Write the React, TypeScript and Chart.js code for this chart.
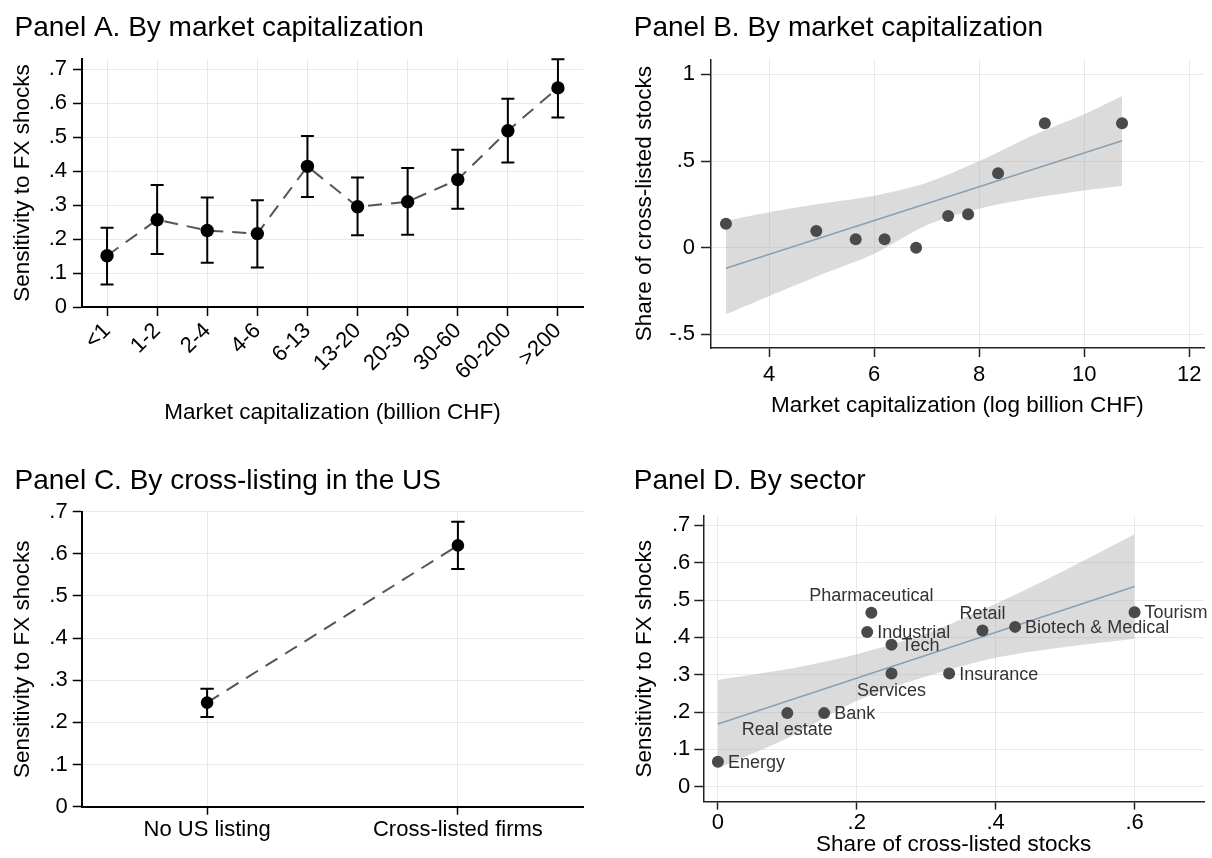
import React, { useEffect, useRef } from "react";
import { Chart, registerables } from "chart.js";

Chart.register(...registerables);

const FONT = "'Liberation Sans', Arial, Helvetica, sans-serif";
const GRID = "#e8e8e8";

// ---------- Panel A: by market capitalization (categories) ----------
const capCategories = ["<1", "1-2", "2-4", "4-6", "6-13", "13-20", "20-30", "30-60", "60-200", ">200"];
const capSensitivity = [0.151, 0.257, 0.225, 0.216, 0.414, 0.295, 0.31, 0.375, 0.519, 0.645];
const capCiLow = [0.066, 0.156, 0.13, 0.116, 0.324, 0.211, 0.213, 0.289, 0.425, 0.558];
const capCiHigh = [0.233, 0.359, 0.322, 0.314, 0.503, 0.381, 0.409, 0.463, 0.613, 0.729];

// ---------- Panel B: share of cross-listed stocks vs log market cap ----------
const logCap = [3.18, 4.9, 5.65, 6.2, 6.8, 7.41, 7.79, 8.36, 9.25, 10.72];
const shareCrossListed = [0.138, 0.096, 0.048, 0.048, 0.0, 0.183, 0.193, 0.429, 0.718, 0.718];
const fitBX = [3.18, 10.72];
const fitBY = [-0.119, 0.617];
const bandBX = [3.18, 4, 5, 6, 7, 8, 9, 10, 10.72];
const bandBHigh = [0.156, 0.205, 0.255, 0.3, 0.375, 0.5, 0.645, 0.77, 0.875];
const bandBLow = [-0.384, -0.28, -0.155, -0.035, 0.13, 0.225, 0.285, 0.33, 0.356];

// ---------- Panel C: by cross-listing in the US ----------
const listingCategories = ["No US listing", "Cross-listed firms"];
const listingSensitivity = [0.247, 0.62];
const listingCiLow = [0.213, 0.564];
const listingCiHigh = [0.28, 0.676];

// ---------- Panel D: by sector ----------
const sectors = ["Energy", "Real estate", "Bank", "Pharmaceutical", "Industrial", "Tech", "Services", "Insurance", "Retail", "Biotech & Medical", "Tourism"];
const sectorShare = [0, 0.1, 0.153, 0.221, 0.215, 0.25, 0.25, 0.333, 0.381, 0.428, 0.6];
const sectorSensitivity = [0.067, 0.197, 0.197, 0.466, 0.414, 0.38, 0.303, 0.303, 0.418, 0.428, 0.467];
const fitDX = [0, 0.6];
const fitDY = [0.168, 0.536];
const bandDX = [0, 0.1, 0.2, 0.3, 0.4, 0.5, 0.6];
const bandDHigh = [0.286, 0.315, 0.355, 0.41, 0.49, 0.58, 0.676];
const bandDLow = [0.05, 0.13, 0.23, 0.295, 0.345, 0.374, 0.396];

// label placement (style, separate from data)
const sectorLabelSide = ["right", "below", "right", "above", "right", "right", "below", "right", "above", "right", "right"];

const W = 606;
const H = 429;

function stataNum(v: number): string {
  const r = Math.round(v * 1000) / 1000;
  if (r === 0) return "0";
  return String(r).replace(/^(-?)0\./, "$1.");
}

function font(size: number, lineHeight = 1.2) {
  return { family: FONT, size, lineHeight };
}

function panelTitlePlugin(text: string, x: number, y: number) {
  return {
    id: "panelTitle",
    afterDraw(chart: any) {
      const ctx = chart.ctx;
      ctx.save();
      ctx.font = `28px ${FONT}`;
      ctx.fillStyle = "#000";
      ctx.textAlign = "left";
      ctx.textBaseline = "alphabetic";
      ctx.fillText(text, x, y);
      ctx.restore();
    },
  };
}

function errorBarPlugin(low: number[], high: number[], halfCap: number) {
  return {
    id: "errorBars",
    afterDatasetsDraw(chart: any) {
      const meta = chart.getDatasetMeta(0);
      const ys = chart.scales.y;
      const ctx = chart.ctx;
      ctx.save();
      ctx.strokeStyle = "#000";
      ctx.lineWidth = 2;
      meta.data.forEach((pt: any, i: number) => {
        const x = pt.x;
        const yl = ys.getPixelForValue(low[i]);
        const yh = ys.getPixelForValue(high[i]);
        ctx.beginPath();
        ctx.moveTo(x, yl);
        ctx.lineTo(x, yh);
        ctx.moveTo(x - halfCap, yl);
        ctx.lineTo(x + halfCap, yl);
        ctx.moveTo(x - halfCap, yh);
        ctx.lineTo(x + halfCap, yh);
        ctx.stroke();
      });
      ctx.restore();
    },
  };
}

function pointLabelPlugin(labels: string[], sides: string[]) {
  return {
    id: "pointLabels",
    afterDatasetsDraw(chart: any) {
      const meta = chart.getDatasetMeta(0);
      const ctx = chart.ctx;
      ctx.save();
      ctx.font = `18px ${FONT}`;
      ctx.fillStyle = "#333";
      meta.data.forEach((pt: any, i: number) => {
        const side = sides[i];
        if (side === "right") {
          ctx.textAlign = "left";
          ctx.textBaseline = "middle";
          ctx.fillText(labels[i], pt.x + 10, pt.y + 1);
        } else if (side === "above") {
          ctx.textAlign = "center";
          ctx.textBaseline = "middle";
          ctx.fillText(labels[i], pt.x, pt.y - 17);
        } else {
          ctx.textAlign = "center";
          ctx.textBaseline = "middle";
          ctx.fillText(labels[i], pt.x, pt.y + 17);
        }
      });
      ctx.restore();
    },
  };
}

const baseOptions = {
  animation: false as const,
  responsive: false,
  maintainAspectRatio: false,
  devicePixelRatio: 1,
  events: [] as any[],
  plugins: { legend: { display: false }, tooltip: { enabled: false } },
};

function makeA(): any {
  return {
    type: "line",
    data: {
      labels: capCategories,
      datasets: [
        {
          data: capSensitivity,
          showLine: false,
          pointRadius: 6.7,
          pointBackgroundColor: "#000",
          pointBorderColor: "#000",
          pointBorderWidth: 0,
        },
        {
          data: capSensitivity,
          borderColor: "#555",
          borderWidth: 2,
          borderDash: [14, 9],
          pointRadius: 0,
          fill: false,
          tension: 0,
        },
      ],
    },
    options: {
      ...baseOptions,
      layout: { padding: { left: 0, top: 59, right: 23, bottom: 0 } },
      scales: {
        x: {
          type: "category",
          offset: true,
          grid: { offset: false, color: GRID, lineWidth: 1, tickColor: "#000", tickLength: 9, tickWidth: 1.5 },
          border: { color: "#000", width: 2 },
          ticks: { minRotation: 45, maxRotation: 45, autoSkip: false, padding: 2, color: "#000", font: font(22) },
          title: {
            display: true,
            text: "Market capitalization (billion CHF)",
            color: "#000",
            font: font(22.5),
            padding: { top: 0, bottom: 3 },
          },
          afterFit(s: any) {
            s.height = 122;
          },
        },
        y: {
          type: "linear",
          min: 0,
          max: 0.73,
          grid: { color: GRID, lineWidth: 1, tickColor: "#000", tickLength: 9, tickWidth: 1.5 },
          border: { color: "#000", width: 2 },
          ticks: {
            stepSize: 0.1,
            includeBounds: false,
            padding: 6,
            color: "#000",
            font: font(22),
            callback: (v: any) => stataNum(Number(v)),
          },
          title: {
            display: true,
            text: "Sensitivity to FX shocks",
            color: "#000",
            font: font(22.5),
            padding: { top: 9.5, bottom: 0 },
          },
          afterFit(s: any) {
            s.width = 82;
          },
        },
      },
    },
    plugins: [panelTitlePlugin("Panel A. By market capitalization", 14.5, 36), errorBarPlugin(capCiLow, capCiHigh, 6.5)],
  };
}

function makeB(): any {
  return {
    type: "line",
    data: {
      datasets: [
        {
          data: logCap.map((x, i) => ({ x, y: shareCrossListed[i] })),
          showLine: false,
          pointRadius: 6,
          pointBackgroundColor: "#4a4a4a",
          pointBorderColor: "#4a4a4a",
          pointBorderWidth: 0,
        },
        {
          data: fitBX.map((x, i) => ({ x, y: fitBY[i] })),
          borderColor: "#8aa0b5",
          borderWidth: 1.6,
          pointRadius: 0,
          fill: false,
        },
        {
          data: bandBX.map((x, i) => ({ x, y: bandBHigh[i] })),
          borderWidth: 0,
          borderColor: "rgba(0,0,0,0)",
          pointRadius: 0,
          tension: 0.3,
          fill: "+1",
          backgroundColor: "rgba(175,175,175,0.45)",
        },
        {
          data: bandBX.map((x, i) => ({ x, y: bandBLow[i] })),
          borderWidth: 0,
          borderColor: "rgba(0,0,0,0)",
          pointRadius: 0,
          tension: 0.3,
          fill: false,
        },
      ],
    },
    options: {
      ...baseOptions,
      layout: { padding: { left: 0, top: 59.3, right: 8, bottom: 0 } },
      scales: {
        x: {
          type: "linear",
          min: 2.89,
          max: 12.28,
          grid: { color: GRID, lineWidth: 1, tickColor: "#222", tickLength: 9, tickWidth: 1.5 },
          border: { color: "#222", width: 1.5 },
          ticks: {
            stepSize: 2,
            includeBounds: false,
            padding: 5,
            color: "#000",
            font: font(22),
            maxRotation: 0,
            callback: (v: any) => stataNum(Number(v)),
          },
          title: {
            display: true,
            text: "Market capitalization (log billion CHF)",
            color: "#000",
            font: font(22.5),
            padding: { top: 0, bottom: 9.5 },
          },
          afterFit(s: any) {
            s.height = 81;
          },
        },
        y: {
          type: "linear",
          min: -0.579,
          max: 1.087,
          grid: { color: GRID, lineWidth: 1, tickColor: "#222", tickLength: 9.7, tickWidth: 1.5 },
          border: { color: "#222", width: 1.5 },
          ticks: {
            stepSize: 0.5,
            includeBounds: false,
            padding: 6,
            color: "#000",
            font: font(22),
            callback: (v: any) => stataNum(Number(v)),
          },
          title: {
            display: true,
            text: "Share of cross-listed stocks",
            color: "#000",
            font: font(22.5),
            padding: { top: 25.5, bottom: 0 },
          },
          afterFit(s: any) {
            s.width = 104.7;
          },
        },
      },
    },
    plugins: [panelTitlePlugin("Panel B. By market capitalization", 27.8, 36)],
  };
}

function makeC(): any {
  return {
    type: "line",
    data: {
      datasets: [
        {
          data: listingSensitivity.map((y, i) => ({ x: i + 1, y })),
          showLine: false,
          pointRadius: 6.3,
          pointBackgroundColor: "#000",
          pointBorderColor: "#000",
          pointBorderWidth: 0,
        },
        {
          data: listingSensitivity.map((y, i) => ({ x: i + 1, y })),
          borderColor: "#555",
          borderWidth: 2,
          borderDash: [14, 9],
          pointRadius: 0,
          fill: false,
        },
      ],
    },
    options: {
      ...baseOptions,
      layout: { padding: { left: 0, top: 82.7, right: 22.7, bottom: 0 } },
      scales: {
        x: {
          type: "linear",
          min: 0.5,
          max: 2.5,
          afterBuildTicks(s: any) {
            s.ticks = listingCategories.map((_, i) => ({ value: i + 1 }));
          },
          grid: { color: GRID, lineWidth: 1, tickColor: "#000", tickLength: 8, tickWidth: 1.5 },
          border: { color: "#000", width: 2 },
          ticks: {
            padding: 2,
            color: "#000",
            font: font(22),
            maxRotation: 0,
            autoSkip: false,
            callback: (v: any) => listingCategories[Math.round(Number(v)) - 1],
          },
          afterFit(s: any) {
            s.height = 51.3;
          },
        },
        y: {
          type: "linear",
          min: 0,
          max: 0.7,
          grid: { color: GRID, lineWidth: 1, tickColor: "#000", tickLength: 9, tickWidth: 1.5 },
          border: { color: "#000", width: 2 },
          ticks: {
            stepSize: 0.1,
            includeBounds: false,
            padding: 5,
            color: "#000",
            font: font(22),
            callback: (v: any) => stataNum(Number(v)),
          },
          title: {
            display: true,
            text: "Sensitivity to FX shocks",
            color: "#000",
            font: font(22.5),
            padding: { top: 9.5, bottom: 0 },
          },
          afterFit(s: any) {
            s.width = 81.7;
          },
        },
      },
    },
    plugins: [panelTitlePlugin("Panel C. By cross-listing in the US", 14.5, 60), errorBarPlugin(listingCiLow, listingCiHigh, 6.7)],
  };
}

function makeD(): any {
  return {
    type: "line",
    data: {
      datasets: [
        {
          data: sectorShare.map((x, i) => ({ x, y: sectorSensitivity[i] })),
          showLine: false,
          pointRadius: 6,
          pointBackgroundColor: "#4a4a4a",
          pointBorderColor: "#4a4a4a",
          pointBorderWidth: 0,
        },
        {
          data: fitDX.map((x, i) => ({ x, y: fitDY[i] })),
          borderColor: "#8aa0b5",
          borderWidth: 1.6,
          pointRadius: 0,
          fill: false,
        },
        {
          data: bandDX.map((x, i) => ({ x, y: bandDHigh[i] })),
          borderWidth: 0,
          borderColor: "rgba(0,0,0,0)",
          pointRadius: 0,
          tension: 0.3,
          fill: "+1",
          backgroundColor: "rgba(175,175,175,0.45)",
        },
        {
          data: bandDX.map((x, i) => ({ x, y: bandDLow[i] })),
          borderWidth: 0,
          borderColor: "rgba(0,0,0,0)",
          pointRadius: 0,
          tension: 0.3,
          fill: false,
        },
      ],
    },
    options: {
      ...baseOptions,
      layout: { padding: { left: 0, top: 87, right: 8, bottom: 0 } },
      scales: {
        x: {
          type: "linear",
          min: -0.021,
          max: 0.7,
          grid: { color: GRID, lineWidth: 1, tickColor: "#222", tickLength: 8, tickWidth: 1.5 },
          border: { color: "#222", width: 1.5 },
          ticks: {
            stepSize: 0.2,
            includeBounds: false,
            padding: 0,
            color: "#000",
            font: font(22),
            maxRotation: 0,
            callback: (v: any) => stataNum(Number(v)),
          },
          title: {
            display: true,
            text: "Share of cross-listed stocks",
            color: "#000",
            font: font(22.5),
            padding: { top: 0, bottom: 0 },
          },
          afterFit(s: any) {
            s.height = 56.4;
          },
        },
        y: {
          type: "linear",
          min: -0.04,
          max: 0.725,
          grid: { color: GRID, lineWidth: 1, tickColor: "#222", tickLength: 9, tickWidth: 1.5 },
          border: { color: "#222", width: 1.5 },
          ticks: {
            stepSize: 0.1,
            includeBounds: false,
            padding: 4,
            color: "#000",
            font: font(22),
            callback: (v: any) => stataNum(Number(v)),
          },
          title: {
            display: true,
            text: "Sensitivity to FX shocks",
            color: "#000",
            font: font(22.5),
            padding: { top: 25.5, bottom: 0 },
          },
          afterFit(s: any) {
            s.width = 97.3;
          },
        },
      },
    },
    plugins: [panelTitlePlugin("Panel D. By sector", 27.8, 60), pointLabelPlugin(sectors, sectorLabelSide)],
  };
}

function Panel({ left, top, make }: { left: number; top: number; make: () => any }) {
  const ref = useRef<HTMLCanvasElement | null>(null);
  useEffect(() => {
    if (!ref.current) return;
    const chart = new Chart(ref.current, make());
    return () => chart.destroy();
  }, []);
  return (
    <canvas
      ref={ref}
      width={W}
      height={H}
      style={{ position: "absolute", left, top, width: W, height: H, display: "block" }}
    />
  );
}

export default function App() {
  return (
    <div
      style={{
        position: "absolute",
        left: 0,
        top: 0,
        width: 1212,
        height: 858,
        background: "#fff",
        overflow: "hidden",
      }}
    >
      <Panel left={0} top={0} make={makeA} />
      <Panel left={606} top={0} make={makeB} />
      <Panel left={0} top={429} make={makeC} />
      <Panel left={606} top={429} make={makeD} />
    </div>
  );
}
